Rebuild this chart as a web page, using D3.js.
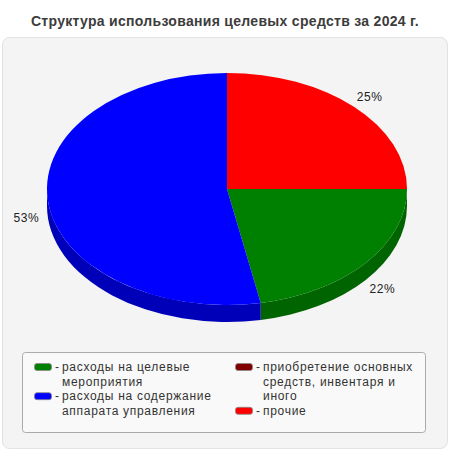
<!DOCTYPE html>
<html>
<head>
<meta charset="utf-8">
<script src="https://cdn.jsdelivr.net/npm/d3@7"></script>
<style>
  body { margin: 0; background: #fff; }
  text { font-family: "Liberation Sans", Arial, sans-serif; }
</style>
</head>
<body>
<div id="chart"></div>
<script>
const titleText = "Структура использования целевых средств за 2024 г.";
const categories = [
    "расходы на целевые мероприятия",
    "расходы на содержание аппарата управления",
    "приобретение основных средств, инвентаря и иного",
    "прочие"
];
const shares = [22, 53, 0, 25];
const colors = ["#008000", "#0000ff", "#800000", "#ff0000"];
const sideColors = ["#006400", "#0000b8", "#600000", "#c00000"];

const width = 450, height = 450;
const cx = 227, cy = 189, rx = 180, ry = 116, depth = 17;

const svg = d3.select("#chart")
    .append("svg")
    .attr("width", width)
    .attr("height", height);

// panel
svg.append("rect")
    .attr("x", 2.5).attr("y", 37.5)
    .attr("width", 445).attr("height", 411)
    .attr("rx", 7)
    .attr("fill", "#f4f4f4")
    .attr("stroke", "#e2e2e2");

svg.append("text")
    .attr("x", 225).attr("y", 26)
    .attr("text-anchor", "middle")
    .attr("font-size", "14px")
    .attr("font-weight", "bold")
    .attr("letter-spacing", "0.3px")
    .attr("fill", "#3c3c3c")
    .text(titleText);

const data = categories.map((c, i) => ({name: c, value: shares[i], color: colors[i], side: sideColors[i]}));

const pie = d3.pie()
    .sort(null)
    .value(d => d.value)
    .startAngle(Math.PI / 2)
    .endAngle(Math.PI / 2 + 2 * Math.PI);

const arcs = pie(data);

// point on ellipse for angle measured clockwise from 12 o'clock
function pt(a, dy) {
    return [cx + rx * Math.sin(a), cy - ry * Math.cos(a) + (dy || 0)];
}

function ellArc(a0, a1, dy, sweep) {
    const p = pt(a1, dy);
    const large = Math.abs(a1 - a0) > Math.PI ? 1 : 0;
    return "A" + rx + "," + ry + " 0 " + large + "," + sweep + " " + p[0] + "," + p[1];
}

// side walls (only the front half, angles between PI/2 and 3PI/2 mod 2PI)
const sides = svg.append("g");
arcs.forEach(function (d) {
    if (d.endAngle - d.startAngle <= 0) return;
    [0, 2 * Math.PI].forEach(function (off) {
        const a0 = Math.max(d.startAngle, Math.PI / 2 + off);
        const a1 = Math.min(d.endAngle, 3 * Math.PI / 2 + off);
        if (a1 <= a0) return;
        const p0 = pt(a0, 0);
        const p1 = pt(a1, depth);
        const path = "M" + p0[0] + "," + p0[1] +
            ellArc(a0, a1, 0, 1) +
            "L" + p1[0] + "," + p1[1] +
            ellArc(a1, a0, depth, 0) + "Z";
        sides.append("path")
            .attr("d", path)
            .attr("fill", d.data.side);
    });
});

// top surface
const tops = svg.append("g");
arcs.forEach(function (d) {
    if (d.endAngle - d.startAngle <= 0) return;
    const p0 = pt(d.startAngle, 0);
    const path = "M" + cx + "," + cy + "L" + p0[0] + "," + p0[1] +
        ellArc(d.startAngle, d.endAngle, 0, 1) + "Z";
    tops.append("path")
        .attr("d", path)
        .attr("fill", d.data.color);
});

// percentage labels
svg.append("g").selectAll("text")
    .data(arcs.filter(d => d.value > 0))
    .enter().append("text")
    .attr("x", d => cx + rx * 1.12 * Math.sin((d.startAngle + d.endAngle) / 2))
    .attr("y", function (d) {
        const m = (d.startAngle + d.endAngle) / 2;
        return cy - ry * 1.12 * Math.cos(m) + (Math.cos(m) < 0 ? depth : 0);
    })
    .attr("text-anchor", "middle")
    .attr("dy", "0.35em")
    .attr("font-size", "12px")
    .attr("letter-spacing", "0.6px")
    .attr("fill", "#222")
    .text(d => Math.round(d.value / d3.sum(shares) * 100) + "%");

// legend
svg.append("rect")
    .attr("x", 22.5).attr("y", 352.5)
    .attr("width", 403).attr("height", 80)
    .attr("rx", 3)
    .attr("fill", "#f9f9f9")
    .attr("stroke", "#aaa");

const lineH = 14.6;
const maxW = 156;
const legend = svg.append("g");
const colX = [34, 235];
const lineCount = [0, 0];

data.forEach(function (d, i) {
    const col = Math.floor(i / 2);
    const x = colX[col];
    const y0 = 367 + lineCount[col] * lineH;

    legend.append("rect")
        .attr("x", x + 0.5).attr("y", y0 - 3.5)
        .attr("width", 17).attr("height", 7)
        .attr("rx", 2.5)
        .attr("fill", d.color)
        .attr("stroke", "#888")
        .attr("stroke-width", 0.8);

    legend.append("text")
        .attr("x", x + 21).attr("y", y0)
        .attr("dy", "0.35em")
        .attr("font-size", "12px")
        .attr("fill", "#333")
        .text("-");

    const t = legend.append("text")
        .attr("x", x + 28).attr("y", y0)
        .attr("font-size", "12px")
        .attr("letter-spacing", "0.7px")
        .attr("fill", "#333");

    // wrap words
    const words = d.name.split(" ");
    let line = [], n = 0;
    let tspan = t.append("tspan").attr("x", x + 28).attr("y", y0).attr("dy", "0.35em");
    words.forEach(function (w) {
        line.push(w);
        tspan.text(line.join(" "));
        if (tspan.node().getComputedTextLength() > maxW && line.length > 1) {
            line.pop();
            tspan.text(line.join(" "));
            line = [w];
            n++;
            tspan = t.append("tspan").attr("x", x + 28).attr("y", y0 + n * lineH).attr("dy", "0.35em").text(w);
        }
    });
    lineCount[col] += n + 1;
});
</script>
</body>
</html>
